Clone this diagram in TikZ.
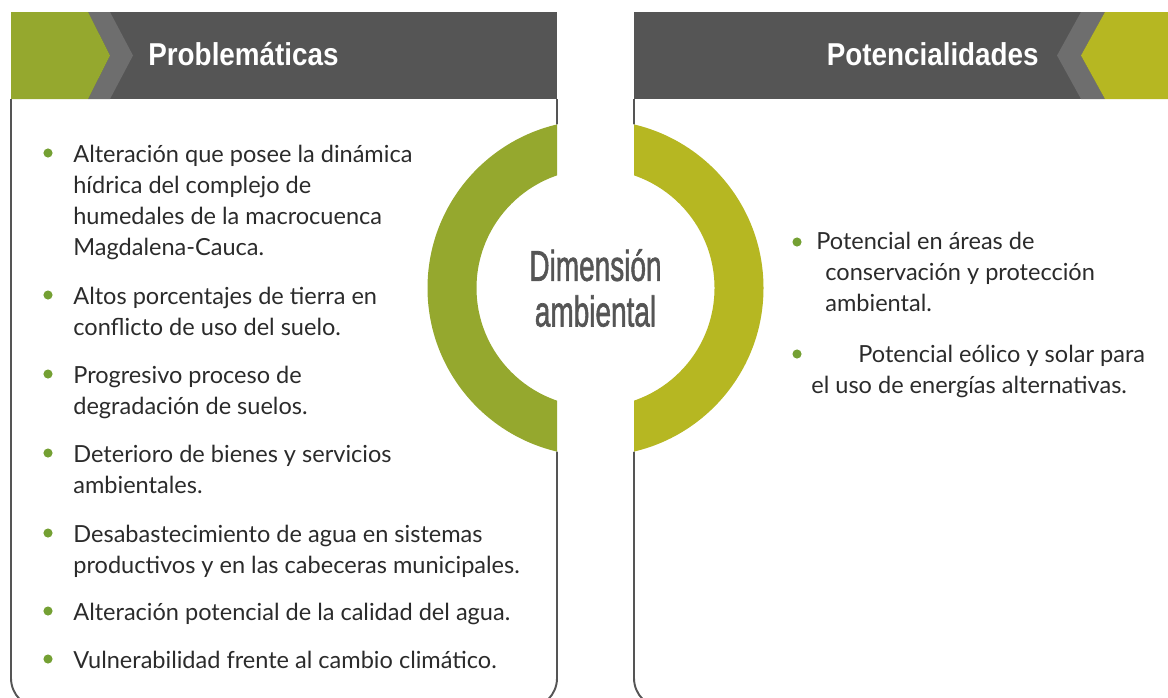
\documentclass[tikz,border=0pt]{standalone}
\usepackage{fontspec}
\setmainfont{Lato}
\newfontfamily\headfont{Liberation Sans}
\newfontfamily\dimfont[FakeBold=1.6]{Liberation Sans}
\usepackage{xcolor}
\usepackage{tikz}
\usetikzlibrary{positioning}
\definecolor{hdrCol}{HTML}{555555}
\definecolor{chvCol}{HTML}{6E6E6E}
\definecolor{grnCol}{HTML}{95A82E}
\definecolor{oliCol}{HTML}{B6B722}
\definecolor{dotCol}{HTML}{74A033}
\definecolor{txtCol}{HTML}{2B2B2B}
\tikzset{
  frame/.style={draw=hdrCol, line width=1.1pt, rounded corners=17pt},
  hdrtxt/.style={font=\headfont\bfseries\fontsize{18}{20}\selectfont, text=white, inner sep=0pt},
  item/.style={anchor=north west, align=left, inner sep=0pt, text=txtCol,
               font=\fontsize{13.4}{17.6}\selectfont},
  bullet/.style={circle, fill=dotCol, inner sep=0pt, minimum size=5.2pt},
}
\newcommand{\hdrname}[1]{\scalebox{0.88}[1]{#1}}
\begin{document}
\begin{tikzpicture}[x=0.02cm, y=-0.02cm]
  \useasboundingbox (0,0) rectangle (1168,697);

  % frames
  \draw[frame] (11,99) -- (11,708) -- (557,708) -- (557,99);
  \draw[frame] (634,99) -- (634,708) -- (1200,708) -- (1200,99);

  % headers
  \fill[hdrCol] (11,12) rectangle (557,99);
  \fill[chvCol] (88,12) -- (110,12) -- (133,55.5) -- (110,99) -- (88,99) -- (110,55.5) -- cycle;
  \fill[grnCol] (11,12) -- (88,12) -- (110,55.5) -- (88,99) -- (11,99) -- cycle;
  \fill[hdrCol] (634,12) rectangle (1168,99);
  \fill[chvCol] (1081,12) -- (1105,12) -- (1081,55.5) -- (1105,99) -- (1081,99) -- (1057,55.5) -- cycle;
  \fill[oliCol] (1105,12) -- (1168,12) -- (1168,99) -- (1105,99) -- (1081,55.5) -- cycle;
  \node[hdrtxt, anchor=base west] (hP) at (148,65) {\hdrname{Problemáticas}};
  \node[hdrtxt, anchor=base east] (hQ) at (1039,65) {\hdrname{Potencialidades}};

  % ring
  \coordinate (ctr) at (595.5,288);
  \fill[white] (ctr) circle (168*0.02cm);
  \begin{scope}
    \clip (0,0) rectangle (557,697);
    \fill[grnCol, even odd rule] (ctr) circle (168*0.02cm) (ctr) circle (119*0.02cm);
  \end{scope}
  \begin{scope}
    \clip (634,0) rectangle (1168,697);
    \fill[oliCol, even odd rule] (ctr) circle (168*0.02cm) (ctr) circle (119*0.02cm);
  \end{scope}
  \node[font=\dimfont\fontsize{24.5}{27}\selectfont, text=hdrCol, align=center]
    (dim) at (ctr) {\scalebox{0.65}[1]{Dimensión}\\[-1pt]\scalebox{0.65}[1]{ambiental}};

  % problematicas
  \node[item] (p1) at (73,145) {Alteración que posee la dinámica\\hídrica del complejo de\\humedales de la macrocuenca\\Magdalena-Cauca.};
  \node[item] (p2) at (73,287) {Altos porcentajes de tierra en\\conflicto de uso del suelo.};
  \node[item] (p3) at (73,366) {Progresivo proceso de\\degradación de suelos.};
  \node[item] (p4) at (73,445) {Deterioro de bienes y servicios\\ambientales.};
  \node[item] (p5) at (73,525) {Desabastecimiento de agua en sistemas\\productivos y en las cabeceras municipales.};
  \node[item] (p6) at (73,603) {Alteración potencial de la calidad del agua.};
  \node[item] (p7) at (73,651) {Vulnerabilidad frente al cambio climático.};
  \foreach \p/\yy in {p1/153,p2/295,p3/374,p4/453,p5/533,p6/611,p7/659}
    \node[bullet] (b\p) at (48,\yy) {};

  % potencialidades
  \node[item] (q1) at (825,232) {\hspace*{-0.18cm}Potencial en áreas de\\conservación y protección\\ambiental.};
  \node[item] (q2) at (811,345) {\hspace*{0.94cm}Potencial eólico y solar para\\el uso de energías alternativas.};
  \foreach \q/\yy in {q1/242,q2/354}
    \node[bullet] (b\q) at (797,\yy) {};
\end{tikzpicture}
\end{document}
